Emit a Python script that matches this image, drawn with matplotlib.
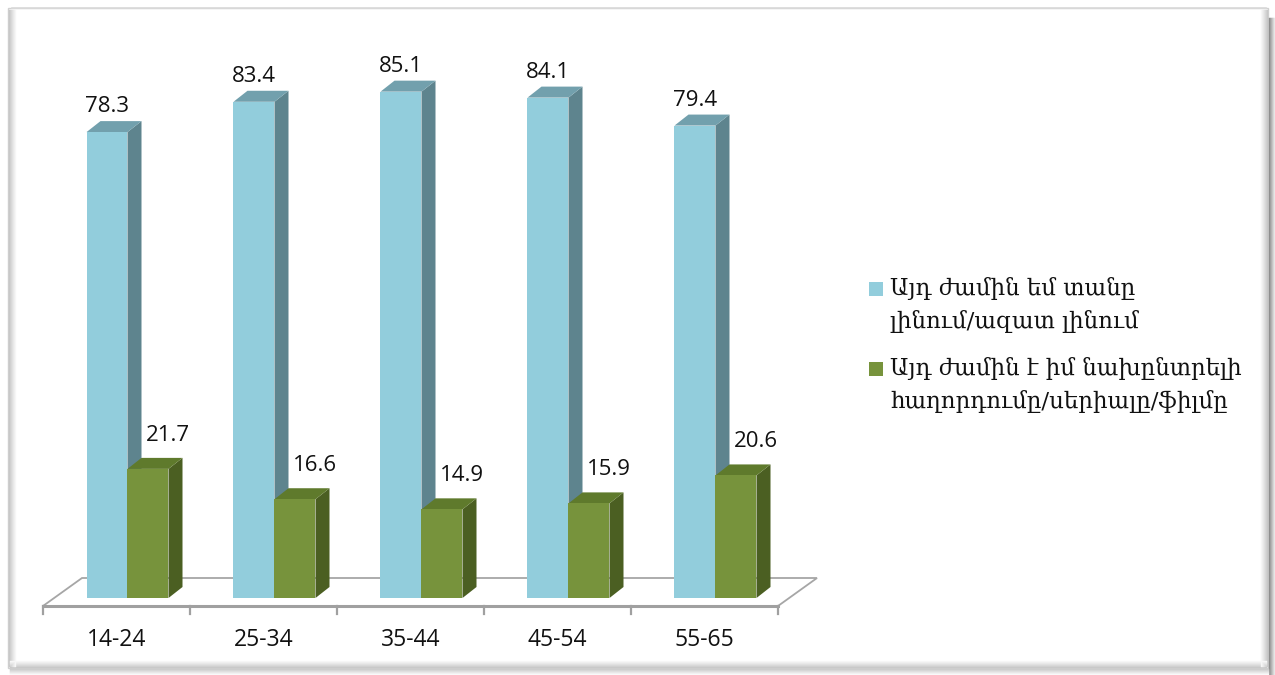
import numpy as np
import matplotlib
matplotlib.use("Agg")
import matplotlib.pyplot as plt
from matplotlib.patches import Polygon, Rectangle

# ------------------------------------------------------------
# Data
# ------------------------------------------------------------

age_groups = ["14-24", "25-34", "35-44", "45-54", "55-65"]
home_free = [78.3, 83.4, 85.1, 84.1, 79.4]
favourite_show = [21.7, 16.6, 14.9, 15.9, 20.6]

legend_labels = [
    ["Այդ ժամին եմ տանը", "լինում/ազատ լինում"],
    ["Այդ ժամին է իմ նախընտրելի", "հաղորդումը/սերիալը/ֆիլմը"],
]

# face colours: front, top, side
blue_faces = ("#92CDDC", "#72A0AD", "#5E848E")
green_faces = ("#77933C", "#5F7A2C", "#4B5F22")

# ------------------------------------------------------------
# Figure and frame
# ------------------------------------------------------------

W, H = 1275, 675
fig = plt.figure(figsize=(W / 100, H / 100), dpi=100)
fig.patch.set_facecolor("white")

bg = fig.add_axes([0, 0, 1, 1], zorder=0)
bg.set_xlim(0, W)
bg.set_ylim(H, 0)
bg.axis("off")

# chart frame with a soft bevel/shadow
bg.add_patch(Rectangle((8, 8), 1260, 660, facecolor="white",
                       edgecolor="#D0D0D0", lw=1.0))
for k in range(7):
    c = str(0.78 + 0.031 * k)
    bg.plot([9 + k, 9 + k], [10, 666], color=c, lw=1.0)        # left
    bg.plot([1267 - k, 1267 - k], [10, 666], color=c, lw=1.0)  # right
    bg.plot([10, 1266], [667 - k, 667 - k], color=c, lw=1.0)   # bottom
for k in range(6):
    c = str(0.55 + 0.07 * k)
    bg.plot([1269 + k, 1269 + k], [18, 675], color=c, lw=1.0)
    bg.plot([10, 1268], [669 + k, 669 + k], color=str(0.80 + 0.035 * k), lw=1.0)
bg.plot([12, 1266], [8, 8], color="#DADADA", lw=1.2)

# ------------------------------------------------------------
# Plot axes: x in category units, y in percent
# ------------------------------------------------------------

PX_X = 147.0   # pixels per category
PX_Y = 5.95    # pixels per percent
x_origin_px = 54
y_zero_px = 598
ymax = 90

ax = fig.add_axes([x_origin_px / W, (H - y_zero_px) / H,
                   5 * PX_X / W, ymax * PX_Y / H], zorder=1)
ax.set_xlim(0, 5)
ax.set_ylim(0, ymax)
ax.axis("off")
ax.patch.set_alpha(0)


def px2x(p):
    return p / PX_X


def px2y(p):
    return p / PX_Y


# bar depth
ddx, ddy = px2x(14), px2y(11)

# floor (oblique)
f_front_y, f_back_y = px2y(-8), px2y(20)
f_front_x, f_back_x = px2x(-11), px2x(28)
n = len(age_groups)
floor = Polygon([(f_front_x, f_front_y), (f_front_x + n, f_front_y),
                 (f_back_x + n, f_back_y), (f_back_x, f_back_y)],
                closed=True, facecolor="white", edgecolor="#A6A6A6",
                lw=1.3, clip_on=False, zorder=1)
ax.add_patch(floor)
ax.plot([f_front_x, f_front_x + n], [f_front_y, f_front_y],
        color="#A0A0A0", lw=2.2, clip_on=False, zorder=1.1)

# category ticks and labels
for k in range(n + 1):
    ax.plot([f_front_x + k, f_front_x + k],
            [f_front_y, f_front_y - px2y(8)],
            color="#A0A0A0", lw=1.6, clip_on=False, zorder=1.1)
for i, lab in enumerate(age_groups):
    ax.text(f_front_x + i + 0.5, f_front_y - px2y(34), lab,
            ha="center", va="center", fontsize=16.5, family="Open Sans",
            color="#111111", clip_on=False)


def draw_box(x0, w, h, faces, z):
    front, top, side = faces
    ax.add_patch(Polygon([(x0 + w, 0), (x0 + w + ddx, ddy),
                          (x0 + w + ddx, h + ddy), (x0 + w, h)],
                         closed=True, facecolor=side, edgecolor="none",
                         clip_on=False, zorder=z))
    ax.add_patch(Polygon([(x0, h), (x0 + w, h), (x0 + w + ddx, h + ddy),
                          (x0 + ddx, h + ddy)],
                         closed=True, facecolor=top, edgecolor="none",
                         clip_on=False, zorder=z))
    ax.add_patch(Rectangle((x0, 0), w, h, facecolor=front,
                           edgecolor="none", clip_on=False, zorder=z))


bw = px2x(41)
for i in range(n):
    xb = i + 0.5 - bw
    xg = i + 0.5
    draw_box(xb, bw, home_free[i], blue_faces, 2 + i * 0.1)
    draw_box(xg, bw, favourite_show[i], green_faces, 2.05 + i * 0.1)

    ax.text(xb + bw / 2, home_free[i] + px2y(20), f"{home_free[i]:.1f}",
            ha="center", va="baseline", fontsize=16, family="Open Sans",
            color="#111111", clip_on=False, zorder=5)
    ax.text(xg + bw / 2 + px2x(20), favourite_show[i] + px2y(28),
            f"{favourite_show[i]:.1f}",
            ha="center", va="baseline", fontsize=16, family="Open Sans",
            color="#111111", clip_on=False, zorder=5)

# ------------------------------------------------------------
# Legend
# ------------------------------------------------------------

leg_font = ["DejaVu Serif", "DejaVu Sans"]
leg_rows = [(282, 295, 328), (362, 375, 408)]
for (sq_top, base1, base2), lines, col in zip(
        leg_rows, legend_labels, [blue_faces[0], green_faces[0]]):
    bg.add_patch(Rectangle((869, sq_top), 14, 14, facecolor=col,
                           edgecolor="none"))
    bg.text(890, base1, lines[0], ha="left", va="baseline",
            fontsize=16.5, family=leg_font, color="#111111")
    bg.text(890, base2, lines[1], ha="left", va="baseline",
            fontsize=16.5, family=leg_font, color="#111111")

fig.savefig("out.png", dpi=100)
